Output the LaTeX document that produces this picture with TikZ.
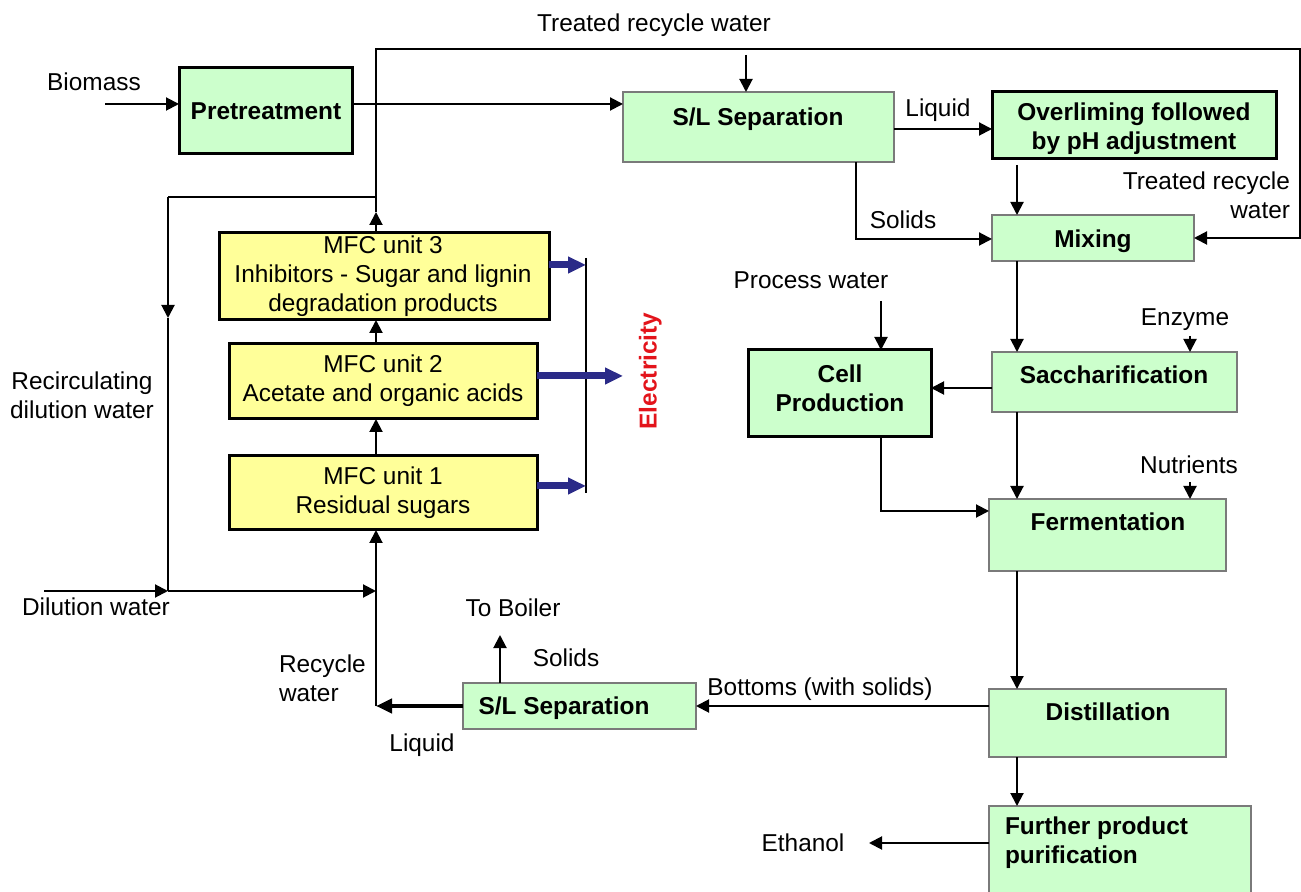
\documentclass[tikz,border=0pt]{standalone}
\usepackage{fontspec}
\setmainfont{Liberation Sans}
\usetikzlibrary{arrows.meta,fit}
\definecolor{boxgreen}{HTML}{CCFFCC}
\definecolor{boxyellow}{HTML}{FFFF99}
\definecolor{elecblue}{HTML}{2B2B88}
\definecolor{elecred}{HTML}{E3141B}
\definecolor{thinborder}{HTML}{7A7A7A}
\newcommand{\diagfont}{\fontsize{12.2}{14.6}\selectfont}
\begin{document}
\begin{tikzpicture}[x=0.5pt,y=-0.5pt,line width=1pt,
  every node/.style={font=\diagfont,inner sep=0pt,outer sep=0pt},
  gthin/.style={draw=thinborder,line width=0.6pt,fill=boxgreen},
  gthick/.style={draw=black,line width=1.5pt,fill=boxgreen},
  ythick/.style={draw=black,line width=1.5pt,fill=boxyellow},
  lbl/.style={text height=8.7pt,text depth=0pt},
  blbl/.style={lbl,font=\diagfont\bfseries},
  bml/.style={font=\diagfont\bfseries},
  arr/.style={-{Triangle[length=6.5pt,width=6.5pt]}},
  thickarr/.style={line width=2pt,-{Triangle[length=8pt,width=7pt]}},
  earr/.style={draw=elecblue,line width=3.5pt,-{Triangle[length=9pt,width=8pt]}}]
\useasboundingbox (0,0) rectangle (1301,892);
\fill[white] (0,0) rectangle (1301,892);

% boxes
\node[gthick,fit={(179,68)(352,154)}] (pre) {};
\node[gthin,fit={(623,92)(894,162)}] (sl1) {};
\node[gthick,fit={(992,92)(1276,159)}] (over) {};
\node[gthin,fit={(992,215)(1194,261)}] (mix) {};
\node[gthick,fit={(748,350)(931,437)}] (cell) {};
\node[gthin,fit={(992,352)(1237,412)}] (sacc) {};
\node[gthin,fit={(989,499)(1226,571)}] (ferm) {};
\node[gthin,fit={(989,689)(1226,757)}] (dist) {};
\node[gthin,fit={(989,806)(1251,897)}] (fur) {};
\node[gthin,fit={(463,683)(696,729)}] (sl2) {};
\node[ythick,fit={(219,233)(549,320)}] (mfc3) {};
\node[ythick,fit={(229,344)(537,419)}] (mfc2) {};
\node[ythick,fit={(229,456)(537,530)}] (mfc1) {};

% box texts
\node[blbl] (pret) at (266,111) {Pretreatment};
\node[blbl] (sl1t) at (758,117) {S/L Separation};
\node[bml,align=center] (overt) at (1134,129) {Overliming followed\\by pH adjustment};
\node[blbl] (mixt) at (1093,239) {Mixing};
\node[bml,align=center] (cellt) at (840,388) {Cell\\Production};
\node[blbl] (sacct) at (1114,375) {Saccharification};
\node[blbl] (fermt) at (1108,522) {Fermentation};
\node[blbl] (distt) at (1108,712) {Distillation};
\node[bml,align=left,anchor=west] (furt) at (1005,843) {Further product\\purification};
\node[blbl] (sl2t) at (564,706) {S/L Separation};
\node[align=center] (mfc3t) at (383,276) {MFC unit 3\\Inhibitors - Sugar and lignin\\degradation products};
\node[align=center] (mfc2t) at (383,381) {MFC unit 2\\Acetate and organic acids};
\node[align=center] (mfc1t) at (383,493) {MFC unit 1\\Residual sugars};

% free labels
\node[lbl] (biot) at (94,82) {Biomass};
\node[lbl] (trwt) at (654,23) {Treated recycle water};
\node[lbl] (liq1) at (938,108) {Liquid};
\node[lbl] (sol1) at (903,220) {Solids};
\node[align=right,anchor=east] (trw2) at (1290,195) {Treated recycle\\water};
\node[lbl] (pwt) at (811,280) {Process water};
\node[lbl] (enz) at (1185,317) {Enzyme};
\node[lbl] (nut) at (1189,465) {Nutrients};
\node[align=center] (rdw) at (82,395) {Recirculating\\dilution water};
\node[lbl,rotate=90,text=elecred,font=\diagfont\bfseries] (elec) at (648,371) {Electricity};
\node[lbl] (dwt) at (96,607) {Dilution water};
\node[lbl] (tbt) at (513,608) {To Boiler};
\node[lbl] (sol2) at (566,658) {Solids};
\node[align=left,anchor=west] (rwt) at (279,678) {Recycle\\water};
\node[lbl] (liq2) at (422,743) {Liquid};
\node[lbl] (bot) at (820,687) {Bottoms (with solids)};
\node[lbl] (etht) at (803,843) {Ethanol};

% coordinates
\coordinate (cBio) at (105,104);
\coordinate (cTrw) at (746,55);
\coordinate (cLiq) at (0,129);
\coordinate (cOM) at (1017,165);
\coordinate (cSol) at (856,239);
\coordinate (cMain) at (1017,0);
\coordinate (cSC) at (0,388);
\coordinate (cPW) at (881,301);
\coordinate (cCF) at (881,511);
\coordinate (cEnz) at (1190,336);
\coordinate (cNut) at (1190,482);
\coordinate (cEth) at (869,843);
\coordinate (cTB) at (500,635);
\coordinate (cLq) at (376,706);
\coordinate (cTip) at (376,212);
\coordinate (cTL) at (376,49);
\coordinate (cTR) at (1300,49);
\coordinate (cJ) at (376,197);
\coordinate (cRC) at (168,197);
\coordinate (cRT) at (168,318);
\coordinate (cDJ) at (168,591);
\coordinate (cDW) at (44,591);
\coordinate (cDJ2) at (376,591);
\coordinate (cE3) at (586,265);
\coordinate (cE2) at (623,376);
\coordinate (cE1) at (586,486);
\coordinate (cBt) at (586,258);
\coordinate (cBb) at (586,493);

% connectors
\draw[arr] (cBio) -- (cBio -| pre.west);
\draw[arr] (cBio -| pre.east) -- (cBio -| sl1.west);
\draw[arr] (cTrw) -- (cTrw |- sl1.north);
\draw[arr] (cLiq -| sl1.east) -- (cLiq -| over.west);
\draw[arr] (cOM) -- (cOM |- mix.north);
\draw[arr] (cSol |- sl1.south) -- (cSol) -- (cSol -| mix.west);
\draw[arr] (cMain |- mix.south) -- (cMain |- sacc.north);
\draw[arr] (cMain |- sacc.south) -- (cMain |- ferm.north);
\draw[arr] (cMain |- ferm.south) -- (cMain |- dist.north);
\draw[arr] (cMain |- dist.south) -- (cMain |- fur.north);
\draw[arr] (cSC -| sacc.west) -- (cSC -| cell.east);
\draw[arr] (cPW) -- (cPW |- cell.north);
\draw[arr] (cCF |- cell.south) -- (cCF) -- (cCF -| ferm.west);
\draw[arr] (cEnz) -- (cEnz |- sacc.north);
\draw[arr] (cNut) -- (cNut |- ferm.north);
\draw[arr] (cEth -| fur.west) -- (cEth);
\draw[arr] (dist.west |- sl2.east) -- (sl2.east);
\draw[arr] (cTB |- sl2.north) -- (cTB);
\draw[thickarr] (sl2.west) -- (cLq);
\draw[arr] (cLq) -- (cLq |- mfc1.south);
\draw[arr] (cLq |- mfc1.north) -- (cLq |- mfc2.south);
\draw[arr] (cLq |- mfc2.north) -- (cLq |- mfc3.south);
\draw[arr] (cTip |- mfc3.north) -- (cTip);
\draw[arr] (cTip) -- (cTL) -- (cTR) -- (cTR |- mix.east) -- (mix.east);
\draw (cJ) -- (cRC);
\draw[arr] (cRC) -- (cRT);
\draw (cRT) -- (cDJ);
\draw[arr] (cDW) -- (cDJ);
\draw[arr] (cDJ) -- (cDJ2);

% electricity
\draw (cBt) -- (cBb);
\draw[earr] (cE3 -| mfc3.east) -- (cE3);
\draw[earr] (cE2 -| mfc2.east) -- (cE2);
\draw[earr] (cE1 -| mfc1.east) -- (cE1);
\end{tikzpicture}
\end{document}
